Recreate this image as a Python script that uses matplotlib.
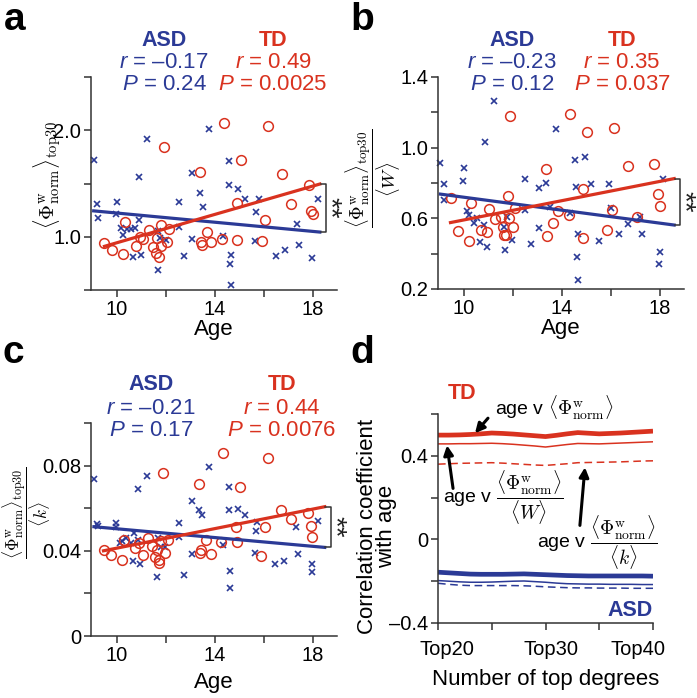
import numpy as np
import matplotlib
matplotlib.use("Agg")
import matplotlib.pyplot as plt
from matplotlib.ticker import FixedLocator, FixedFormatter
from matplotlib.transforms import ScaledTranslation

plt.rcParams['font.family'] = ['Liberation Sans', 'DejaVu Sans']
plt.rcParams['mathtext.fontset'] = 'custom'
plt.rcParams['mathtext.rm'] = 'Liberation Sans'
plt.rcParams['mathtext.it'] = 'Liberation Sans:italic'
plt.rcParams['mathtext.bf'] = 'Liberation Sans:bold'

BLUE = '#2B3A96'
RED = '#D9321F'
AXC = '#333333'

# ---------------- data ----------------
# panel a: <Phi_norm^w>_top30 vs age
asd_age_a = [9.09, 9.21, 9.22, 10.03, 9.99, 11.25, 10.90, 10.90, 10.19, 10.27, 10.41, 10.59,
             10.75, 10.65, 10.98, 11.70, 11.69, 11.77, 12.0, 12.54, 12.53, 12.75, 13.09, 13.39,
             13.51, 13.09, 13.78, 14.57, 14.60, 14.97, 15.25, 14.33, 14.67, 14.63, 14.65, 15.82,
             15.71, 15.67, 16.50, 16.87, 17.36, 17.46, 17.99, 18.23]
asd_val_a = [1.72, 1.31, 1.18, 1.33, 1.21, 1.92, 1.56, 1.16, 1.08, 1.02, 1.07, 1.07,
             1.08, 0.81, 0.83, 0.69, 1.05, 0.99, 0.97, 1.33, 1.09, 0.82, 1.60, 1.41,
             1.28, 0.98, 2.01, 1.71, 1.49, 1.45, 1.35, 1.01, 0.83, 0.74, 0.55, 1.35,
             1.23, 0.96, 0.82, 0.88, 1.12, 0.92, 0.80, 1.35]
td_age_a = [9.50, 9.80, 10.24, 10.34, 10.79, 10.95, 11.06, 11.31, 11.50, 11.61, 11.71, 11.66,
            11.81, 11.82, 12.04, 12.15, 11.92, 13.40, 13.44, 13.47, 13.67, 13.86, 14.38, 14.29,
            14.90, 14.91, 15.06, 15.92, 16.05, 16.20, 16.75, 17.13, 17.84, 17.93, 18.0]
td_val_a = [0.94, 0.88, 0.84, 1.14, 0.91, 1.00, 0.98, 1.06, 0.90, 0.85, 0.81, 0.99,
            0.91, 1.11, 0.95, 1.07, 1.84, 1.61, 0.95, 0.92, 1.04, 0.95, 2.07, 0.98,
            1.32, 0.97, 1.72, 0.96, 1.16, 2.04, 1.59, 1.31, 1.49, 1.24, 1.21]

# panel b: <Phi_norm^w>_top30 / <W> vs age
asd_age_b = [9.02, 9.18, 9.21, 10.0, 9.96, 11.25, 10.88, 10.14, 10.23, 10.41, 10.54, 10.65,
             10.82, 10.95, 11.67, 11.66, 11.77, 11.97, 12.49, 12.50, 12.73, 13.07, 13.36, 13.09,
             13.76, 13.51, 14.56, 14.95, 14.57, 15.21, 14.35, 14.67, 14.63, 14.65, 15.94, 16.02,
             15.52, 16.35, 16.71, 17.21, 17.27, 18.0, 17.96, 18.16]
asd_val_b = [0.915, 0.797, 0.703, 0.885, 0.812, 1.263, 1.032, 0.639, 0.617, 0.572, 0.600, 0.467,
             0.560, 0.440, 0.418, 0.553, 0.610, 0.478, 0.825, 0.647, 0.455, 0.769, 0.800, 0.546,
             1.107, 0.666, 0.932, 0.947, 0.775, 0.797, 0.628, 0.510, 0.380, 0.249, 0.793, 0.656,
             0.469, 0.510, 0.570, 0.609, 0.510, 0.408, 0.341, 0.825]
td_age_b = [9.48, 9.76, 10.20, 10.31, 10.72, 10.94, 11.05, 11.26, 11.52, 11.59, 11.66, 11.74,
            11.80, 11.84, 12.0, 11.90, 12.10, 13.36, 13.40, 13.63, 13.84, 14.33, 14.29, 14.86,
            14.87, 15.03, 15.85, 16.05, 16.16, 16.71, 17.07, 17.78, 17.95, 18.0]
td_val_b = [0.713, 0.530, 0.472, 0.688, 0.534, 0.525, 0.650, 0.598, 0.609, 0.553, 0.504, 0.504,
            0.726, 0.600, 0.553, 1.182, 0.656, 0.882, 0.502, 0.572, 0.643, 1.190, 0.619, 0.767,
            0.487, 1.088, 0.534, 0.647, 1.111, 0.897, 0.609, 0.908, 0.735, 0.669]

# panel c: <Phi_norm^w>_top30 / <k> vs age
asd_age_c = [9.07, 9.18, 9.22, 9.97, 9.97, 11.24, 10.89, 10.14, 10.23, 10.38, 10.57, 10.72,
             10.65, 10.89, 10.95, 11.66, 11.70, 11.81, 11.98, 12.53, 12.53, 12.74, 13.09, 13.36,
             13.50, 13.08, 13.76, 14.58, 14.58, 14.96, 15.25, 14.33, 14.63, 14.63, 15.72, 15.68,
             15.67, 16.48, 16.85, 17.33, 17.42, 17.98, 17.98, 18.22]
asd_val_c = [0.0737, 0.0524, 0.0518, 0.0532, 0.0513, 0.0753, 0.0690, 0.0435, 0.0447, 0.0458, 0.0435, 0.0482,
             0.0350, 0.0450, 0.0340, 0.0278, 0.0458, 0.0419, 0.0416, 0.0529, 0.0466, 0.0285, 0.0635, 0.0591,
             0.0568, 0.0387, 0.0792, 0.0701, 0.0590, 0.0596, 0.0568, 0.0427, 0.0306, 0.0226, 0.0536, 0.0494,
             0.0392, 0.0340, 0.0353, 0.0513, 0.0387, 0.0340, 0.0301, 0.0540]
td_age_c = [9.47, 9.77, 10.20, 10.31, 10.76, 10.93, 11.06, 11.28, 11.46, 11.57, 11.63, 11.73,
            11.73, 11.80, 11.99, 12.11, 11.88, 13.36, 13.42, 13.45, 13.64, 13.84, 14.33, 14.28,
            14.88, 14.90, 15.04, 15.89, 16.05, 16.17, 16.72, 17.11, 17.82, 17.94, 17.99]
td_val_c = [0.0403, 0.0380, 0.0356, 0.0450, 0.0414, 0.0435, 0.0380, 0.0458, 0.0422, 0.0372, 0.0403, 0.0356,
            0.0345, 0.0447, 0.0390, 0.0450, 0.0767, 0.0712, 0.0390, 0.0402, 0.0450, 0.0387, 0.0861, 0.0439,
            0.0513, 0.0439, 0.0701, 0.0375, 0.0510, 0.0838, 0.0591, 0.0549, 0.0579, 0.0516, 0.0463]

# regression lines: (start age, end age) and (start value, end value)
asd_fit_x = {'a': [9.06, 18.3], 'b': [9.05, 18.6], 'c': [9.07, 18.5]}
asd_fit_y = {'a': [1.243, 1.044], 'b': [0.737, 0.562], 'c': [0.0513, 0.0416]}
td_fit_x = {'a': [9.50, 18.3], 'b': [9.46, 18.6], 'c': [9.46, 18.5]}
td_fit_y = {'a': [0.91, 1.495], 'b': [0.576, 0.825], 'c': [0.0400, 0.0607]}

asd_stats = {'a': ('–0.17', '0.24'), 'b': ('–0.23', '0.12'), 'c': ('–0.21', '0.17')}
td_stats = {'a': ('0.49', '0.0025'), 'b': ('0.35', '0.037'), 'c': ('0.44', '0.0076')}

# panel d: correlation coefficient vs number of top degrees
n_top = list(range(20, 41))
td_r_phi = [0.499, 0.499, 0.500, 0.502, 0.505, 0.509, 0.507, 0.504, 0.500, 0.496, 0.492,
            0.498, 0.505, 0.511, 0.508, 0.505, 0.507, 0.509, 0.512, 0.515, 0.518]
td_r_w = [0.457, 0.457, 0.458, 0.458, 0.459, 0.460, 0.458, 0.455, 0.451, 0.447, 0.442,
          0.448, 0.454, 0.459, 0.458, 0.457, 0.459, 0.461, 0.463, 0.465, 0.467]
td_r_k = [0.360, 0.362, 0.364, 0.365, 0.366, 0.367, 0.365, 0.362, 0.359, 0.356, 0.354,
          0.358, 0.362, 0.367, 0.368, 0.369, 0.370, 0.371, 0.373, 0.375, 0.376]
asd_r_phi = [-0.157, -0.160, -0.163, -0.166, -0.167, -0.167, -0.167, -0.166, -0.165, -0.167, -0.169,
             -0.171, -0.173, -0.174, -0.175, -0.175, -0.175, -0.175, -0.175, -0.175, -0.176]
asd_r_w = [-0.197, -0.200, -0.203, -0.205, -0.205, -0.204, -0.202, -0.200, -0.199, -0.202, -0.205,
           -0.209, -0.212, -0.213, -0.214, -0.214, -0.215, -0.215, -0.215, -0.216, -0.216]
asd_r_k = [-0.210, -0.215, -0.219, -0.221, -0.221, -0.221, -0.221, -0.221, -0.222, -0.224, -0.227,
           -0.229, -0.231, -0.232, -0.232, -0.233, -0.233, -0.233, -0.234, -0.234, -0.234]

W, H = 697, 698
fig = plt.figure(figsize=(W / 100, H / 100), dpi=100)


def px_text(x, y, s, **kw):
    fig.text(x / W, 1 - y / H, s, **kw)


def style_axes(ax):
    for side in ['top', 'right']:
        ax.spines[side].set_visible(False)
    for side in ['left', 'bottom']:
        ax.spines[side].set_color(AXC)
        ax.spines[side].set_linewidth(1.1)
    ax.tick_params(which='both', direction='out', length=5, width=1.1, color=AXC,
                   labelsize=14.5, pad=2)


def scatter_panel(rect, key, asd_x, asd_y, td_x, td_y, ylim, major, minor, labels):
    ax = fig.add_axes(rect)
    style_axes(ax)
    ax.plot(asd_x, asd_y, 'x', color=BLUE, ms=4.5, mew=1.2, clip_on=False)
    ax.plot(td_x, td_y, 'o', mfc='none', mec=RED, ms=7, mew=1.1, clip_on=False)
    ax.plot(asd_fit_x[key], asd_fit_y[key], color=BLUE, lw=2.3)
    ax.plot(td_fit_x[key], td_fit_y[key], color=RED, lw=2.3)
    ax.set_xlim(8.95, 19.0)
    ax.set_ylim(*ylim)
    ax.xaxis.set_major_locator(FixedLocator([10, 14, 18]))
    ax.xaxis.set_minor_locator(FixedLocator([12, 16]))
    ax.yaxis.set_major_locator(FixedLocator(major))
    ax.yaxis.set_major_formatter(FixedFormatter(labels))
    ax.yaxis.set_minor_locator(FixedLocator(minor))
    # significance bracket between the two fitted line ends
    xe = asd_fit_x[key][1]
    y1, y2 = asd_fit_y[key][1], td_fit_y[key][1]
    xb = xe + 0.25
    ax.plot([xe + 0.03, xb, xb, xe + 0.03], [y1, y1, y2, y2], color=AXC, lw=1.1,
            clip_on=False)
    ax.annotate('**', xy=(xb, (y1 + y2) / 2), xytext=(11.5, 0), textcoords='offset points',
                rotation=-90, ha='right', va='center', fontsize=20, color='#222222',
                annotation_clip=False)
    return ax


# ---------------- panel a ----------------
ax_a = scatter_panel([91 / W, 1 - 290 / H, 246 / W, 213 / H], 'a',
                     asd_age_a, asd_val_a, td_age_a, td_val_a,
                     (0.5, 2.5), [1.0, 2.0], [0.5, 1.5, 2.5], ['1.0', '2.0'])
ax_a.set_ylabel(r'$\langle\Phi^{\rm w}_{\rm norm}\rangle_{\rm top30}$', fontsize=15,
                math_fontfamily='cm')
ax_a.yaxis.set_label_coords(-0.11, 0.54)
ax_a.set_xlabel('Age', fontsize=16)
ax_a.xaxis.set_label_coords(0.5, -0.135)

# ---------------- panel b ----------------
ax_b = scatter_panel([438 / W, 1 - 289 / H, 246 / W, 212 / H], 'b',
                     asd_age_b, asd_val_b, td_age_b, td_val_b,
                     (0.2, 1.4), [0.2, 0.6, 1.0, 1.4], [0.4, 0.8, 1.2],
                     ['0.2', '0.6', '1.0', '1.4'])
ax_b.set_ylabel(r'$\dfrac{\langle\Phi^{\rm w}_{\rm norm}\rangle_{\rm top30}}{\langle W\rangle}$',
                fontsize=13.5, math_fontfamily='cm')
ax_b.yaxis.set_label_coords(-0.142, 0.52)
ax_b.set_xlabel('Age', fontsize=16)
ax_b.xaxis.set_label_coords(0.5, -0.135)

# ---------------- panel c ----------------
ax_c = scatter_panel([91 / W, 1 - 636 / H, 246 / W, 213 / H], 'c',
                     asd_age_c, asd_val_c, td_age_c, td_val_c,
                     (0.0, 0.1), [0.0, 0.04, 0.08], [0.02, 0.06, 0.1],
                     ['0', '0.04', '0.08'])
ax_c.set_ylabel(r'$\dfrac{\langle\Phi^{\rm w}_{\rm norm}\rangle_{\rm top30}}{\langle k\rangle}$',
                fontsize=12.5, math_fontfamily='cm')
ax_c.yaxis.set_label_coords(-0.155, 0.58)
ax_c.set_xlabel('Age', fontsize=16)
ax_c.xaxis.set_label_coords(0.5, -0.17)

# stats headers for a, b, c
headers = {'a': (164, 273, 0), 'b': (512, 622, 0), 'c': (151, 282, 345)}
for key, (xa, xt, dy) in headers.items():
    px_text(xa, 40 + dy, 'ASD', ha='center', va='center', fontsize=15.5,
            fontweight='bold', color=BLUE)
    px_text(xa, 63 + dy, r'$r$ = ' + asd_stats[key][0], ha='center', va='center',
            fontsize=16, color=BLUE)
    px_text(xa, 85 + dy, r'$P$ = ' + asd_stats[key][1], ha='center', va='center',
            fontsize=16, color=BLUE)
    px_text(xt, 40 + dy, 'TD', ha='center', va='center', fontsize=15.5,
            fontweight='bold', color=RED)
    px_text(xt, 63 + dy, r'$r$ = ' + td_stats[key][0], ha='center', va='center',
            fontsize=16, color=RED)
    px_text(xt, 85 + dy, r'$P$ = ' + td_stats[key][1], ha='center', va='center',
            fontsize=16, color=RED)

# ---------------- panel d ----------------
ax_d = fig.add_axes([438 / W, 1 - 623 / H, 215 / W, 209 / H])
style_axes(ax_d)
ax_d.plot(n_top, td_r_phi, color=RED, lw=3.4, solid_capstyle='butt')
ax_d.plot(n_top, td_r_w, color=RED, lw=1.1)
ax_d.plot(n_top, td_r_k, color=RED, lw=1.1, ls=(0, (5, 3)))
ax_d.plot(n_top, asd_r_phi, color=BLUE, lw=3.4, solid_capstyle='butt')
ax_d.plot(n_top, asd_r_w, color=BLUE, lw=1.1)
ax_d.plot(n_top, asd_r_k, color=BLUE, lw=1.1, ls=(0, (5, 3)))
ax_d.set_xlim(20, 40)
ax_d.set_ylim(-0.4, 0.6)
ax_d.xaxis.set_major_locator(FixedLocator([20, 30, 40]))
ax_d.xaxis.set_major_formatter(FixedFormatter(['Top20', 'Top30', 'Top40']))
ax_d.xaxis.set_minor_locator(FixedLocator([25, 35]))
ax_d.yaxis.set_major_locator(FixedLocator([-0.4, 0.0, 0.4]))
ax_d.yaxis.set_major_formatter(FixedFormatter(['–0.4', '0', '0.4']))
ax_d.yaxis.set_minor_locator(FixedLocator([-0.2, 0.2, 0.6]))
ax_d.tick_params(axis='x', pad=7)
for lab, dx in zip(ax_d.get_xticklabels(), [9, 6, -15]):
    lab.set_transform(lab.get_transform() + ScaledTranslation(dx / 100, 0, fig.dpi_scale_trans))
ax_d.set_xlabel('Number of top degrees', fontsize=16)
ax_d.xaxis.set_label_coords(0.5, -0.22)
ax_d.set_ylabel('Correlation coefficient\nwith age', fontsize=16, linespacing=0.9)
ax_d.yaxis.set_label_coords(-0.19, 0.46)

ax_d.text(22.2, 0.70, 'TD', ha='center', va='center', fontsize=15.5, fontweight='bold',
          color=RED, clip_on=False)
ax_d.text(37.9, -0.34, 'ASD', ha='center', va='center', fontsize=15.5, fontweight='bold',
          color=BLUE)
ax_d.text(25.3, 0.63, r'age v $\langle\Phi^{\rm w}_{\rm norm}\rangle$', ha='left',
          va='center', fontsize=14, math_fontfamily='cm', clip_on=False)
ax_d.text(20.5, 0.20, r'age v $\dfrac{\langle\Phi^{\rm w}_{\rm norm}\rangle}{\langle W\rangle}$',
          ha='left', va='center', fontsize=14, math_fontfamily='cm')
ax_d.text(29.2, -0.014, r'age v $\dfrac{\langle\Phi^{\rm w}_{\rm norm}\rangle}{\langle k\rangle}$',
          ha='left', va='center', fontsize=14, math_fontfamily='cm')
arrow = dict(arrowstyle='-|>', color='k', lw=2.2, mutation_scale=14, shrinkA=0, shrinkB=0)
ax_d.annotate('', xy=(23.44, 0.508), xytext=(24.65, 0.58), arrowprops=arrow,
              annotation_clip=False)
ax_d.annotate('', xy=(20.84, 0.45), xytext=(21.4, 0.244), arrowprops=arrow)
ax_d.annotate('', xy=(33.67, 0.345), xytext=(33.2, 0.067), arrowprops=arrow)

# panel letters
for letter, (x, y) in {'a': (4, 30), 'b': (350, 30), 'c': (2, 363), 'd': (350, 363)}.items():
    px_text(x, y, letter, ha='left', va='baseline', fontsize=28, fontweight='bold')

fig.savefig('out.png', dpi=100)
